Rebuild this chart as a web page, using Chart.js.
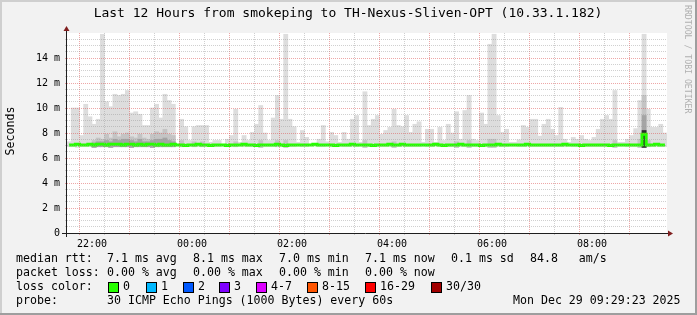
<!DOCTYPE html>
<html>
<head>
<meta charset="utf-8">
<script src="https://cdn.jsdelivr.net/npm/chart.js@4.4.1/dist/chart.umd.min.js"></script>
<style>
  html, body { margin: 0; padding: 0; background: #f2f2f2; }
  #wrap { width: 697px; height: 315px; }
</style>
</head>
<body>
<div id="wrap"><canvas id="smoke" width="697" height="315"></canvas></div>
<script>
// --- data (12h window starting 21:30, one bin = 5 minutes) ---
const STEP_MIN = 5;
const X_MAX_MIN = 720;

const xTickMinutes = [30, 150, 270, 390, 510, 630];
const xTickLabels = ["22:00", "00:00", "02:00", "04:00", "06:00", "08:00"];
const yTickValues = [0, 2, 4, 6, 8, 10, 12, 14];
const yTickLabels = ["0", "2 m", "4 m", "6 m", "8 m", "10 m", "12 m", "14 m"];

// upper edge of the light smoke (ms)
const smokeHigh = [
  7.3, 10.0, 10.0, 7.8, 10.3, 9.3, 8.7, 9.1, 15.9, 10.5, 10.1, 11.1,
  11.0, 11.1, 11.4, 9.6, 9.7, 9.5, 8.6, 8.6, 10.0, 10.3, 9.2, 11.1,
  10.6, 10.3, 7.1, 9.1, 8.5, 7.4, 8.5, 8.6, 8.6, 8.6, 7.25, 7.4,
  7.4, 7.1, 7.5, 7.8, 9.9, 7.25, 7.8, 7.4, 8.05, 8.7, 10.2, 8.0,
  7.4, 9.2, 11.0, 9.1, 15.9, 9.1, 8.5, 7.25, 8.2, 7.65, 7.1, 7.1,
  7.5, 8.6, 7.3, 8.05, 7.8, 7.25, 8.05, 7.5, 9.1, 9.4, 7.25, 11.3,
  8.6, 9.1, 9.4, 7.9, 8.2, 8.45, 9.9, 8.6, 8.5, 9.4, 8.05, 8.7,
  8.9, 7.25, 8.3, 8.3, 7.25, 8.45, 7.4, 8.7, 8.0, 9.7, 7.5, 9.8,
  11.0, 7.5, 7.4, 9.6, 8.7, 15.1, 15.9, 9.4, 8.05, 8.3, 7.25, 7.25,
  7.45, 8.6, 8.45, 9.1, 9.1, 7.75, 8.7, 9.1, 8.3, 7.8, 10.05, 7.5,
  7.25, 7.65, 7.5, 7.8, 7.5, 7.4, 7.65, 8.3, 9.1, 9.4, 9.1, 11.4,
  7.25, 7.25, 7.5, 7.8, 8.35, 10.6, 15.9, 9.9, 8.45, 8.45, 8.7, 8.0
];

// lower edge of the smoke (ms)
const smokeLow = [
  6.9, 6.9, 6.85, 6.9, 6.9, 6.9, 6.85, 6.9, 6.9, 6.9, 6.85, 6.9,
  6.9, 6.9, 6.9, 6.85, 6.9, 6.9, 6.9, 6.9, 6.85, 6.9, 6.9, 6.9,
  6.9, 6.9, 7.0, 6.9, 6.9, 6.95, 6.9, 6.9, 6.9, 6.9, 6.95, 6.9,
  6.9, 7.0, 6.9, 6.9, 6.9, 6.95, 6.9, 6.9, 6.9, 6.9, 6.85, 6.9,
  6.9, 6.9, 6.9, 6.9, 6.85, 6.9, 6.9, 6.95, 6.9, 6.9, 7.0, 7.0,
  6.9, 6.9, 6.95, 6.9, 6.9, 6.95, 6.9, 6.9, 6.9, 6.9, 6.95, 6.85,
  6.9, 6.9, 6.9, 6.9, 6.9, 6.9, 6.85, 6.9, 6.9, 6.9, 6.9, 6.9,
  6.9, 6.95, 6.9, 6.9, 6.95, 6.9, 6.9, 6.9, 6.9, 6.85, 6.9, 6.9,
  6.85, 6.9, 6.9, 6.9, 6.9, 6.85, 6.85, 6.9, 6.9, 6.9, 6.95, 6.95,
  6.9, 6.9, 6.9, 6.9, 6.9, 6.9, 6.9, 6.9, 6.9, 6.9, 6.9, 6.9,
  6.95, 6.9, 6.9, 6.9, 6.9, 6.9, 6.9, 6.9, 6.9, 6.9, 6.9, 6.85,
  6.95, 6.95, 6.9, 6.9, 6.9, 6.85, 6.85, 6.9, 6.9, 6.9, 6.9, 6.9
];

// denser inner smoke (ms), null = none
const smokeMid = [
  null, null, null, null, null, null, 7.4, 7.6, 7.5, 7.9, 7.6, 8.1,
  7.7, 7.9, 8.0, 7.7, 7.6, 7.9, 7.6, 7.5, 7.9, 8.1, 8.0, 8.3,
  7.9, 7.8, null, 7.4, null, null, 7.3, null, 7.3, null, null, null,
  null, null, null, null, 7.3, null, null, null, null, null, 7.4, null,
  null, null, 7.4, null, 7.4, null, null, null, null, null, null, null,
  null, null, null, null, null, null, null, null, null, null, null, 7.4,
  null, null, null, null, null, null, 7.3, null, null, null, null, null,
  null, null, null, null, null, null, null, null, null, 7.3, null, null,
  7.4, null, null, null, null, 7.5, 7.5, null, null, null, null, null,
  null, null, null, null, null, null, null, null, null, null, null, null,
  null, null, null, null, null, null, null, null, null, null, null, 7.4,
  null, null, null, null, null, 7.5, 11.0, 7.4, null, null, null, null
];

const smokeDark = [
  null, null, null, null, null, null, 7.2, 7.3, 7.3, 7.4, 7.3, 7.5,
  7.4, 7.5, 7.5, 7.4, 7.3, 7.5, 7.3, 7.3, 7.4, 7.5, 7.5, 7.6,
  7.4, 7.3, null, null, null, null, null, null, null, null, null, null,
  null, null, null, null, null, null, null, null, null, null, null, null,
  null, null, null, null, null, null, null, null, null, null, null, null,
  null, null, null, null, null, null, null, null, null, null, null, null,
  null, null, null, null, null, null, null, null, null, null, null, null,
  null, null, null, null, null, null, null, null, null, null, null, null,
  null, null, null, null, null, null, null, null, null, null, null, null,
  null, null, null, null, null, null, null, null, null, null, null, null,
  null, null, null, null, null, null, null, null, null, null, null, null,
  null, null, null, null, null, null, 9.4, null, null, null, null, null
];

const smokeCore = [
  null, null, null, null, null, null, null, null, null, null, null, null,
  null, null, null, null, null, null, null, null, null, null, null, null,
  null, null, null, null, null, null, null, null, null, null, null, null,
  null, null, null, null, null, null, null, null, null, null, null, null,
  null, null, null, null, null, null, null, null, null, null, null, null,
  null, null, null, null, null, null, null, null, null, null, null, null,
  null, null, null, null, null, null, null, null, null, null, null, null,
  null, null, null, null, null, null, null, null, null, null, null, null,
  null, null, null, null, null, null, null, null, null, null, null, null,
  null, null, null, null, null, null, null, null, null, null, null, null,
  null, null, null, null, null, null, null, null, null, null, null, null,
  null, null, null, null, null, null, 8.2, null, null, null, null, null
];

// median rtt (ms)
const medianRtt = [
  7.05, 7.05, 7.1, 7.05, 7.05, 7.1, 7.05, 7.1, 7.1, 7.05, 7.1, 7.1,
  7.1, 7.05, 7.1, 7.1, 7.05, 7.1, 7.05, 7.1, 7.1, 7.05, 7.1, 7.05,
  7.05, 7.1, 7.05, 7.05, 7.0, 7.05, 7.05, 7.1, 7.05, 7.05, 7.0, 7.05,
  7.05, 7.05, 7.0, 7.05, 7.05, 7.05, 7.1, 7.05, 7.05, 7.0, 7.05, 7.05,
  7.05, 7.05, 7.1, 7.05, 7.0, 7.05, 7.05, 7.05, 7.05, 7.05, 7.05, 7.1,
  7.05, 7.05, 7.05, 7.05, 7.0, 7.05, 7.05, 7.05, 7.1, 7.05, 7.05, 7.05,
  7.05, 7.0, 7.05, 7.05, 7.05, 7.1, 7.05, 7.05, 7.1, 7.05, 7.05, 7.05,
  7.05, 7.05, 7.05, 7.05, 7.1, 7.05, 7.0, 7.05, 7.05, 7.05, 7.1, 7.05,
  7.05, 7.05, 7.05, 7.0, 7.05, 7.05, 7.05, 7.1, 7.05, 7.05, 7.05, 7.05,
  7.05, 7.05, 7.1, 7.05, 7.05, 7.05, 7.05, 7.05, 7.05, 7.05, 7.05, 7.1,
  7.05, 7.05, 7.05, 7.0, 7.05, 7.05, 7.05, 7.05, 7.05, 7.05, 7.0, 7.05,
  7.05, 7.05, 7.05, 7.05, 7.05, 7.05, 7.9, 7.05, 7.05, 7.1, 7.05, 7.05
];

const lossLabels = ["0", "1", "2", "3", "4-7", "8-15", "16-29", "30/30"];
const lossColors = ["#26ff00", "#00b8ff", "#0059ff", "#7e00ff", "#dd00ff", "#ff5500", "#ff0000", "#a10000"];

const titleText = "Last 12 Hours from smokeping to TH-Nexus-Sliven-OPT (10.33.1.182)";
const rttStats = ["7.1 ms avg", "8.1 ms max", "7.0 ms min", "7.1 ms now", "0.1 ms sd", "84.8   am/s"];
const lossStats = ["0.00 % avg", "0.00 % max", "0.00 % min", "0.00 % now"];
const probeText = "30 ICMP Echo Pings (1000 Bytes) every 60s";
const stampText = "Mon Dec 29 09:29:23 2025";

// --- helpers ---
const MONO = '"DejaVu Sans Mono", monospace';
const binX = i => i * STEP_MIN + STEP_MIN / 2;

function rangeSeries(high) {
  return high.map((h, i) => ({ x: binX(i), y: h == null ? null : [smokeLow[i], h] }));
}

function smokeBar(label, high, color, order) {
  return {
    type: "bar",
    label,
    data: rangeSeries(high),
    backgroundColor: color,
    borderWidth: 0,
    grouped: false,
    barPercentage: 1,
    categoryPercentage: 1,
    order
  };
}

const MINOR = "rgba(150,150,150,0.45)";
const MAJOR = "rgba(222,80,80,0.5)";
const NONE = "rgba(0,0,0,0)";

// frame, axes, title and legend like rrdtool draws them
const rrdDecor = {
  id: "rrdDecor",
  beforeDraw(chart) {
    const c = chart.ctx, a = chart.chartArea, W = chart.width, H = chart.height;
    c.save();
    c.fillStyle = "#f2f2f2";
    c.fillRect(0, 0, W, H);
    c.fillStyle = "#cfcfcf";
    c.fillRect(0, 0, W, 2);
    c.fillRect(0, 0, 2, H);
    c.fillStyle = "#9e9e9e";
    c.fillRect(0, H - 2, W, 2);
    c.fillRect(W - 2, 0, 2, H);
    c.fillStyle = "#ffffff";
    c.fillRect(a.left, a.top, a.right - a.left, a.bottom - a.top);
    c.restore();
  },
  afterDraw(chart) {
    const c = chart.ctx, a = chart.chartArea;
    c.save();

    // axes
    c.strokeStyle = "#1f1f1f";
    c.lineWidth = 1;
    c.beginPath();
    c.moveTo(a.left - 5, a.bottom + 0.5);
    c.lineTo(a.right + 2, a.bottom + 0.5);
    c.moveTo(a.left - 0.5, a.bottom + 4);
    c.lineTo(a.left - 0.5, a.top - 2);
    c.stroke();

    // arrows
    c.fillStyle = "#801f1f";
    c.beginPath();
    c.moveTo(a.left - 3.5, a.top - 2);
    c.lineTo(a.left + 2.5, a.top - 2);
    c.lineTo(a.left - 0.5, a.top - 7);
    c.closePath();
    c.fill();
    c.beginPath();
    c.moveTo(a.right + 1, a.bottom - 2.5);
    c.lineTo(a.right + 1, a.bottom + 3.5);
    c.lineTo(a.right + 6, a.bottom + 0.5);
    c.closePath();
    c.fill();

    // title
    c.fillStyle = "#000";
    c.font = "13px " + MONO;
    c.textAlign = "center";
    c.textBaseline = "middle";
    c.fillText(titleText, 348, 14);

    // unit label
    c.save();
    c.translate(11, 131);
    c.rotate(-Math.PI / 2);
    c.font = "11.6px " + MONO;
    c.fillText("Seconds", 0, 0);
    c.restore();

    // watermark
    c.save();
    c.translate(687.5, 5);
    c.rotate(Math.PI / 2);
    c.font = "8.2px " + MONO;
    c.fillStyle = "#b0b0b0";
    c.textAlign = "left";
    c.fillText("RRDTOOL / TOBI OETIKER", 0, 0);
    c.restore();

    // legend
    c.font = "11.6px " + MONO;
    c.textAlign = "left";
    c.textBaseline = "middle";
    c.fillStyle = "#000";
    const cols = [107, 193, 279, 365, 451, 530];
    c.fillText("median rtt:", 16, 259);
    rttStats.forEach((s, i) => c.fillText(s, cols[i], 259));
    c.fillText("packet loss:", 16, 273);
    lossStats.forEach((s, i) => c.fillText(s, cols[i], 273));
    c.fillText("loss color:", 16, 287);
    const boxX = [108, 146, 183, 219, 256, 307, 365, 431];
    lossLabels.forEach((s, i) => {
      c.fillStyle = lossColors[i];
      c.fillRect(boxX[i], 282, 10, 10);
      c.strokeStyle = "#000";
      c.strokeRect(boxX[i] + 0.5, 282.5, 10, 10);
      c.fillStyle = "#000";
      c.fillText(s, boxX[i] + 15, 287);
    });
    c.fillText("probe:", 16, 301);
    c.fillText(probeText, 107, 301);
    c.fillText(stampText, 513, 301);

    c.restore();
  }
};

new Chart(document.getElementById("smoke"), {
  data: {
    datasets: [
      {
        type: "line",
        label: "median rtt",
        data: medianRtt.map((v, i) => ({ x: binX(i), y: v })),
        borderColor: "#26ff00",
        borderWidth: 3,
        pointRadius: 0,
        stepped: "middle",
        order: 0
      },
      smokeBar("core", smokeCore, "#2a2a2a", 1),
      smokeBar("dark", smokeDark, "#a4a4a4", 2),
      smokeBar("mid", smokeMid, "#c4c4c4", 3),
      smokeBar("light", smokeHigh, "#dddddd", 4)
    ]
  },
  options: {
    responsive: false,
    animation: false,
    events: [],
    layout: { padding: { top: 33, right: 30, bottom: 0, left: 0 } },
    plugins: {
      legend: { display: false },
      tooltip: { enabled: false }
    },
    scales: {
      x: {
        type: "linear",
        min: 0,
        max: X_MAX_MIN,
        offset: false,
        afterFit: s => { s.height = 82; },
        border: { display: false, dash: [1, 1] },
        grid: {
          z: 1,
          drawTicks: true,
          tickLength: 2,
          color: ctx => {
            const v = ctx.tick && ctx.tick.value;
            if (v === 0 || v === X_MAX_MIN) return NONE;
            return (v - 30) % 60 === 0 ? MAJOR : MINOR;
          }
        },
        ticks: {
          stepSize: 30,
          autoSkip: false,
          maxRotation: 0,
          padding: 3,
          color: "#000",
          font: { family: MONO, size: 10 },
          callback: v => {
            const k = xTickMinutes.indexOf(v);
            return k >= 0 ? xTickLabels[k] : "";
          }
        }
      },
      y: {
        type: "linear",
        min: 0,
        max: 16,
        afterFit: s => { s.width = 67; },
        border: { display: false, dash: [1, 1] },
        grid: {
          z: 1,
          drawTicks: true,
          tickLength: 2,
          color: ctx => {
            const v = ctx.tick && ctx.tick.value;
            if (v === 0 || v === 16) return NONE;
            return Math.abs(v % 2) < 1e-6 ? MAJOR : MINOR;
          }
        },
        ticks: {
          stepSize: 0.5,
          autoSkip: false,
          padding: 5,
          color: "#000",
          font: { family: MONO, size: 10 },
          callback: v => {
            const k = yTickValues.findIndex(t => Math.abs(t - v) < 1e-6);
            return k >= 0 ? yTickLabels[k] : "";
          }
        }
      }
    }
  },
  plugins: [rrdDecor]
});
</script>
</body>
</html>
